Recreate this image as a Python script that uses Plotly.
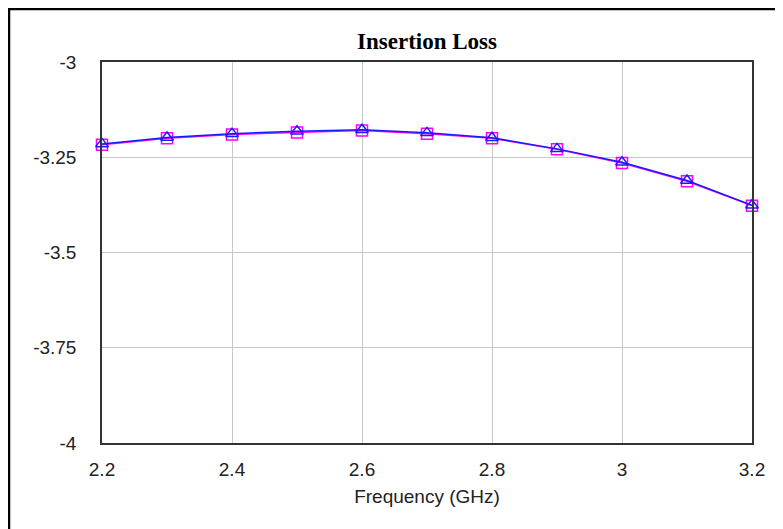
import plotly.graph_objects as go

freq = [2.2, 2.3, 2.4, 2.5, 2.6, 2.7, 2.8, 2.9, 3.0, 3.1, 3.2]
loss_sq = [-3.217, -3.200, -3.190, -3.185, -3.180, -3.188, -3.200, -3.229, -3.265, -3.313, -3.377]
loss_tri = [-3.215, -3.198, -3.188, -3.182, -3.178, -3.186, -3.199, -3.228, -3.263, -3.311, -3.376]

y_ticks = [-3, -3.25, -3.5, -3.75, -4]
y_labels = ["-3", "-3.25", "-3.5", "-3.75", "-4"]
x_ticks = [2.2, 2.4, 2.6, 2.8, 3.0, 3.2]
x_labels = ["2.2", "2.4", "2.6", "2.8", "3", "3.2"]

W, H = 783, 529
L, R, T, B = 94, 39, 54, 94
PW, PH = W - L - R, H - T - B

fig = go.Figure()
fig.add_trace(go.Scatter(
    x=freq, y=loss_sq, mode="lines+markers",
    line=dict(color="#ff00ff", width=1.5),
    marker=dict(symbol="square-open", size=11, color="#ff00ff", line=dict(width=1.5)),
    cliponaxis=False, showlegend=False))
fig.add_trace(go.Scatter(
    x=freq, y=loss_tri, mode="lines+markers",
    line=dict(color="#1a1aff", width=1.5),
    marker=dict(symbol="triangle-up-open", size=11, color="#1a1aff", line=dict(width=1.5)),
    cliponaxis=False, showlegend=False))

sans = "Liberation Sans, Arial, sans-serif"
fig.update_layout(
    width=W, height=H,
    margin=dict(l=L, r=R, t=T, b=B),
    paper_bgcolor="white", plot_bgcolor="white",
    title=dict(text="<b>Insertion Loss</b>", x=0.5, xref="paper", xanchor="center",
               y=1 - 33 / H, yref="container", yanchor="middle",
               font=dict(family="Liberation Serif, Times New Roman, serif", size=23, color="black")),
    xaxis=dict(range=[2.2, 3.2], tickvals=x_ticks, ticktext=x_labels,
               showgrid=True, gridcolor="#c8c8c8", gridwidth=1,
               showline=True, linecolor="#333333", linewidth=1.5, mirror=True,
               ticks="outside", ticklen=8, tickcolor="rgba(0,0,0,0)", zeroline=False,
               tickfont=dict(family=sans, size=19, color="#222222"),
               title=dict(text="Frequency (GHz)", standoff=11,
                          font=dict(family=sans, size=19, color="#222222"))),
    yaxis=dict(range=[-4, -3], tickvals=y_ticks, ticktext=y_labels,
               showgrid=True, gridcolor="#c8c8c8", gridwidth=1,
               showline=True, linecolor="#333333", linewidth=1.5, mirror=True,
               ticks="outside", ticklen=20, tickcolor="rgba(0,0,0,0)", zeroline=False,
               tickfont=dict(family=sans, size=19, color="#222222")),
)

fig.add_shape(type="line", xref="paper", yref="paper",
              x0=-L / PW, x1=(W - L) / PW, y0=(PH + T - 1) / PH, y1=(PH + T - 1) / PH,
              line=dict(color="black", width=2.5))
fig.add_shape(type="line", xref="paper", yref="paper",
              x0=-(L - 1) / PW, x1=-(L - 1) / PW, y0=-B / PH, y1=(PH + T) / PH,
              line=dict(color="black", width=2.5))

fig.write_html("out.html")
